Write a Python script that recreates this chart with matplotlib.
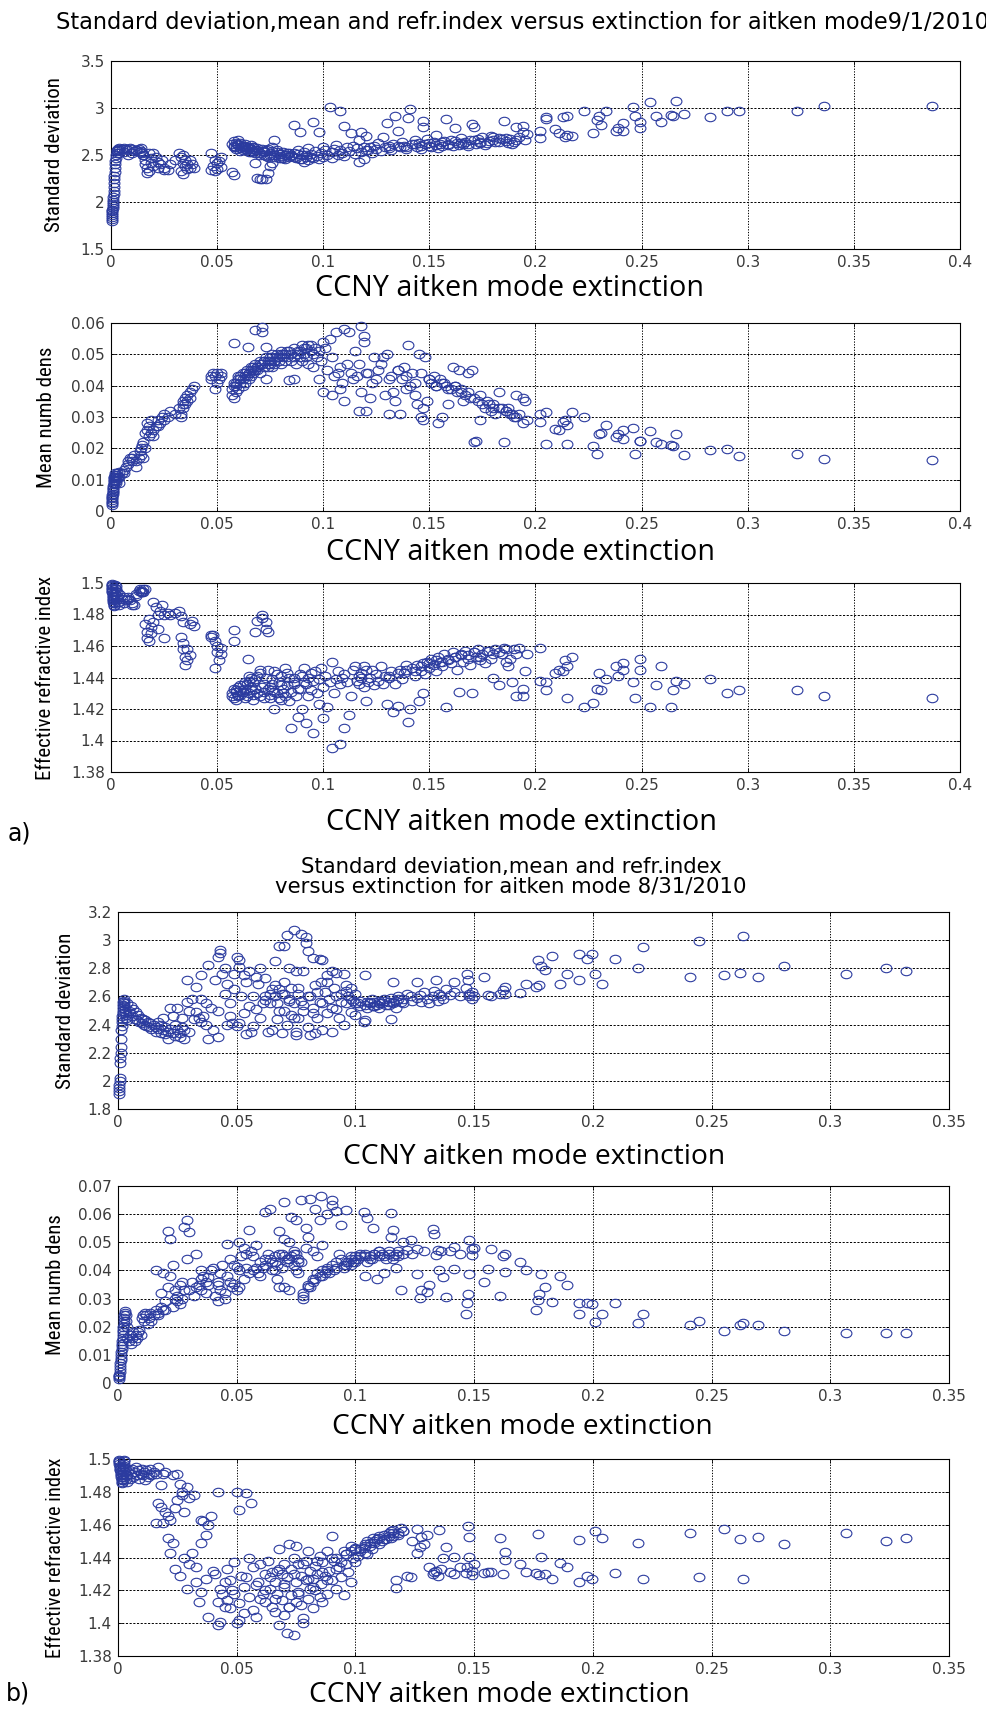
import matplotlib
matplotlib.use("Agg")
import matplotlib.pyplot as plt
from matplotlib.path import Path
from matplotlib.transforms import Affine2D
from matplotlib import font_manager as fm

# ---------------------------------------------------------------------------
# 9/1/2010 : aitken-mode extinction and retrieved size-distribution parameters
# ---------------------------------------------------------------------------
ext_a = [
    # near-zero column
    0.0003, 0.0004, 0.0005, 0.0005, 0.0006, 0.0006, 0.0007, 0.0008, 0.0008, 0.0009,
    0.0010, 0.0010, 0.0011, 0.0012, 0.0012, 0.0013, 0.0014, 0.0015, 0.0016, 0.0017,
    0.0018, 0.0019, 0.0020, 0.0022, 0.0024, 0.0026, 0.0028, 0.0030, 0.0033, 0.0036,
    # 0.004 - 0.015
    0.004, 0.005, 0.006, 0.007, 0.008, 0.009, 0.010, 0.011, 0.012, 0.013,
    0.0135, 0.014, 0.0145, 0.015, 0.004, 0.006, 0.008, 0.010, 0.012, 0.014,
    # 0.015 - 0.053
    0.015, 0.016, 0.016, 0.017, 0.017, 0.018, 0.018, 0.019, 0.019, 0.020,
    0.020, 0.021, 0.022, 0.022, 0.023, 0.024, 0.025, 0.025, 0.027, 0.028,
    0.030, 0.032, 0.033, 0.033, 0.034, 0.034, 0.034, 0.035, 0.035, 0.036,
    0.036, 0.037, 0.037, 0.038, 0.039, 0.047, 0.047, 0.048, 0.049, 0.049,
    0.050, 0.050, 0.051, 0.052, 0.052,
    # 0.057 - 0.085
    0.057, 0.057, 0.058, 0.058, 0.058, 0.059, 0.059, 0.060, 0.060, 0.061,
    0.061, 0.062, 0.062, 0.063, 0.063, 0.064, 0.0645, 0.065, 0.065, 0.066,
    0.066, 0.067, 0.067, 0.068, 0.068, 0.069, 0.069, 0.070, 0.070, 0.071,
    0.071, 0.072, 0.072, 0.073, 0.073, 0.074, 0.074, 0.075, 0.075, 0.076,
    0.076, 0.077, 0.077, 0.078, 0.079, 0.080, 0.080, 0.081, 0.082, 0.082,
    0.083, 0.084, 0.084, 0.085,
    # 0.085 - 0.12
    0.085, 0.086, 0.086, 0.087, 0.088, 0.089, 0.089, 0.090, 0.091, 0.091,
    0.092, 0.093, 0.093, 0.094, 0.095, 0.095, 0.096, 0.097, 0.098, 0.098,
    0.099, 0.100, 0.100, 0.101, 0.102, 0.103, 0.104, 0.104, 0.105, 0.106,
    0.107, 0.108, 0.108, 0.109, 0.110, 0.110, 0.111, 0.112, 0.113, 0.114,
    0.115, 0.116, 0.117, 0.117, 0.118, 0.118, 0.119, 0.120, 0.120, 0.119,
    # 0.12 - 0.2
    0.121, 0.122, 0.123, 0.124, 0.125, 0.126, 0.127, 0.128, 0.129, 0.130,
    0.131, 0.132, 0.133, 0.134, 0.135, 0.136, 0.137, 0.138, 0.139, 0.140,
    0.141, 0.142, 0.143, 0.144, 0.145, 0.146, 0.147, 0.147, 0.148, 0.149,
    0.150, 0.151, 0.152, 0.153, 0.154, 0.155, 0.156, 0.157, 0.158, 0.159,
    0.160, 0.161, 0.162, 0.163, 0.164, 0.165, 0.166, 0.167, 0.168, 0.169,
    0.170, 0.171, 0.172, 0.173, 0.174, 0.175, 0.176, 0.178, 0.179, 0.180,
    0.181, 0.183, 0.184, 0.185, 0.186, 0.187, 0.189, 0.190, 0.191, 0.192,
    0.194, 0.194, 0.195, 0.196,
    # sparse high-extinction tail
    0.387, 0.336, 0.323, 0.296, 0.290, 0.282, 0.270, 0.266, 0.265, 0.264,
    0.259, 0.257, 0.254, 0.249, 0.249, 0.247, 0.246, 0.241, 0.241, 0.239,
    0.238, 0.233, 0.231, 0.230, 0.229, 0.227, 0.223, 0.217, 0.215, 0.214,
    0.213, 0.211, 0.209, 0.215, 0.205, 0.205, 0.202, 0.202,
    # core of the 0.06 - 0.095 cloud
    0.058, 0.059, 0.060, 0.061, 0.062, 0.063, 0.064, 0.065, 0.066, 0.067,
    0.068, 0.069, 0.070, 0.071, 0.072, 0.073, 0.074, 0.075, 0.076, 0.077,
    0.078, 0.079, 0.080, 0.081, 0.083, 0.086, 0.088, 0.090, 0.092, 0.094,
    # core of the 0.13 - 0.19 band
    0.131, 0.135, 0.139, 0.143, 0.146, 0.150, 0.153, 0.156, 0.159, 0.162,
    0.165, 0.168, 0.171, 0.174, 0.177, 0.180, 0.183, 0.186, 0.188, 0.191,
]

sd_a = [
    1.80, 1.82, 1.84, 1.86, 1.88, 1.90, 1.92, 1.94, 1.96, 1.98,
    2.00, 2.02, 2.05, 2.08, 2.12, 2.16, 2.20, 2.24, 2.28, 2.32,
    2.36, 2.40, 2.44, 2.47, 2.50, 2.52, 2.54, 2.55, 2.56, 2.57,
    2.55, 2.56, 2.57, 2.56, 2.55, 2.57, 2.56, 2.54, 2.55, 2.56,
    2.53, 2.54, 2.52, 2.50, 2.52, 2.53, 2.50, 2.52, 2.55, 2.57,
    2.50, 2.45, 2.40, 2.36, 2.31, 2.33, 2.52, 2.47, 2.42, 2.38,
    2.52, 2.48, 2.43, 2.36, 2.40, 2.45, 2.36, 2.34, 2.34, 2.40,
    2.45, 2.52, 2.48, 2.33, 2.42, 2.30, 2.50, 2.38, 2.45, 2.35,
    2.40, 2.45, 2.36, 2.40, 2.36, 2.34, 2.52, 2.38, 2.33, 2.45,
    2.41, 2.35, 2.44, 2.37, 2.48,
    2.62, 2.32, 2.65, 2.60, 2.29, 2.63, 2.58, 2.66, 2.61, 2.57,
    2.63, 2.55, 2.60, 2.62, 2.56, 2.59, 2.57, 2.53, 2.58, 2.56,
    2.61, 2.54, 2.59, 2.55, 2.41, 2.26, 2.57, 2.52, 2.25, 2.56,
    2.24, 2.50, 2.54, 2.25, 2.55, 2.31, 2.48, 2.38, 2.52, 2.42,
    2.58, 2.66, 2.50, 2.53, 2.47, 2.51, 2.47, 2.53, 2.50, 2.46,
    2.52, 2.48, 2.52, 2.50,
    2.49, 2.82, 2.52, 2.47, 2.55, 2.74, 2.46, 2.50, 2.43, 2.53,
    2.48, 2.57, 2.45, 2.51, 2.85, 2.47, 2.54, 2.49, 2.74, 2.46,
    2.52, 2.58, 2.48, 2.55, 2.50, 3.01, 2.53, 2.47, 2.56, 2.61,
    2.50, 2.97, 2.55, 2.52, 2.81, 2.49, 2.58, 2.54, 2.73, 2.60,
    2.51, 2.57, 2.43, 2.66, 2.75, 2.53, 2.59, 2.70, 2.55, 2.46,
    2.55, 2.58, 2.52, 2.60, 2.56, 2.63, 2.54, 2.69, 2.58, 2.84,
    2.60, 2.55, 2.62, 2.91, 2.76, 2.58, 2.64, 2.60, 2.56, 2.89,
    2.99, 2.62, 2.66, 2.59, 2.63, 2.56, 2.86, 2.80, 2.62, 2.67,
    2.60, 2.58, 2.64, 2.71, 2.57, 2.62, 2.60, 2.65, 2.88, 2.61,
    2.66, 2.60, 2.79, 2.63, 2.61, 2.68, 2.62, 2.64, 2.60, 2.66,
    2.83, 2.80, 2.62, 2.67, 2.63, 2.69, 2.61, 2.65, 2.70, 2.69,
    2.64, 2.64, 2.67, 2.86, 2.68, 2.63, 2.62, 2.64, 2.80, 2.69,
    2.81, 2.74, 2.66, 2.72,
    3.02, 3.02, 2.97, 2.97, 2.97, 2.90, 2.94, 3.07, 2.91, 2.93,
    2.85, 2.91, 3.06, 2.79, 2.85, 2.92, 3.01, 2.84, 2.76, 2.79,
    2.76, 2.97, 2.82, 2.92, 2.87, 2.73, 2.97, 2.70, 2.92, 2.69,
    2.90, 2.73, 2.78, 2.71, 2.90, 2.88, 2.76, 2.68,
    2.59, 2.56, 2.62, 2.54, 2.58, 2.60, 2.55, 2.57, 2.53, 2.58,
    2.52, 2.55, 2.50, 2.54, 2.53, 2.49, 2.56, 2.50, 2.54, 2.48,
    2.55, 2.51, 2.49, 2.47, 2.50, 2.48, 2.51, 2.46, 2.50, 2.48,
    2.57, 2.60, 2.58, 2.62, 2.60, 2.63, 2.61, 2.64, 2.62, 2.65,
    2.63, 2.62, 2.66, 2.64, 2.63, 2.66, 2.68, 2.65, 2.67, 2.66,
]

mnd_a = [
    0.0020, 0.0025, 0.0030, 0.0035, 0.0040, 0.0045, 0.0050, 0.0055, 0.0060, 0.0065,
    0.0070, 0.0075, 0.0080, 0.0085, 0.0090, 0.0095, 0.0100, 0.0105, 0.0110, 0.0115,
    0.0120, 0.0110, 0.0100, 0.0090, 0.0095, 0.0105, 0.0115, 0.0120, 0.0110, 0.0125,
    0.011, 0.012, 0.013, 0.014, 0.016, 0.017, 0.017, 0.018, 0.016, 0.017,
    0.019, 0.020, 0.021, 0.022, 0.009, 0.012, 0.015, 0.016, 0.014, 0.018,
    0.017, 0.025, 0.020, 0.028, 0.026, 0.024, 0.027, 0.025, 0.029, 0.026,
    0.024, 0.027, 0.029, 0.027, 0.028, 0.030, 0.029, 0.031, 0.030, 0.032,
    0.031, 0.033, 0.031, 0.030, 0.035, 0.034, 0.033, 0.036, 0.034, 0.037,
    0.035, 0.038, 0.036, 0.039, 0.040, 0.042, 0.043, 0.044, 0.039, 0.043,
    0.044, 0.041, 0.042, 0.043, 0.044,
    0.039, 0.037, 0.0536, 0.040, 0.036, 0.041, 0.038, 0.039, 0.042, 0.041,
    0.043, 0.040, 0.042, 0.044, 0.041, 0.043, 0.0523, 0.042, 0.044, 0.043,
    0.045, 0.044, 0.046, 0.0577, 0.045, 0.046, 0.045, 0.047, 0.044, 0.0587,
    0.0571, 0.046, 0.048, 0.0523, 0.0422, 0.047, 0.046, 0.048, 0.047, 0.049,
    0.046, 0.048, 0.047, 0.049, 0.048, 0.050, 0.047, 0.049, 0.048, 0.050,
    0.049, 0.051, 0.0417, 0.050,
    0.048, 0.042, 0.049, 0.047, 0.050, 0.049, 0.051, 0.048, 0.052, 0.050,
    0.049, 0.053, 0.047, 0.051, 0.050, 0.046, 0.052, 0.049, 0.042, 0.051,
    0.048, 0.054, 0.038, 0.052, 0.045, 0.055, 0.037, 0.049, 0.043, 0.057,
    0.044, 0.039, 0.046, 0.041, 0.058, 0.035, 0.047, 0.057, 0.044, 0.042,
    0.051, 0.043, 0.032, 0.047, 0.059, 0.038, 0.056, 0.032, 0.044, 0.054,
    0.044, 0.036, 0.041, 0.049, 0.042, 0.045, 0.047, 0.049, 0.037, 0.050,
    0.031, 0.043, 0.038, 0.035, 0.045, 0.031, 0.042, 0.046, 0.039, 0.053,
    0.040, 0.044, 0.037, 0.034, 0.050, 0.030, 0.029, 0.033, 0.049, 0.035,
    0.042, 0.041, 0.043, 0.040, 0.028, 0.042, 0.030, 0.041, 0.040, 0.034,
    0.039, 0.046, 0.040, 0.038, 0.045, 0.039, 0.035, 0.037, 0.044, 0.036,
    0.045, 0.022, 0.0225, 0.035, 0.029, 0.034, 0.033, 0.034, 0.032, 0.033,
    0.031, 0.038, 0.033, 0.022, 0.032, 0.033, 0.031, 0.030, 0.037, 0.031,
    0.036, 0.028, 0.035, 0.029,
    0.0162, 0.0165, 0.0181, 0.0175, 0.0198, 0.0196, 0.0180, 0.0245, 0.0208, 0.0212,
    0.0213, 0.0219, 0.0255, 0.0225, 0.0222, 0.0183, 0.0266, 0.0257, 0.0230, 0.0245,
    0.0235, 0.0274, 0.0250, 0.0245, 0.0182, 0.0208, 0.0300, 0.0316, 0.0213, 0.0291,
    0.0285, 0.0260, 0.0262, 0.0275, 0.0215, 0.0316, 0.0284, 0.0310,
    0.041, 0.040, 0.043, 0.042, 0.044, 0.043, 0.045, 0.044, 0.046, 0.045,
    0.047, 0.046, 0.048, 0.047, 0.048, 0.049, 0.048, 0.049, 0.050, 0.048,
    0.050, 0.049, 0.051, 0.050, 0.051, 0.052, 0.051, 0.053, 0.052, 0.053,
    0.042, 0.045, 0.043, 0.041, 0.044, 0.042, 0.040, 0.041, 0.039, 0.040,
    0.038, 0.038, 0.036, 0.037, 0.035, 0.034, 0.033, 0.032, 0.031, 0.030,
]

ri_a = [
    1.4995, 1.4990, 1.4980, 1.4970, 1.4960, 1.4950, 1.4940, 1.4930, 1.4920, 1.4910,
    1.4900, 1.4890, 1.4880, 1.4870, 1.4860, 1.4855, 1.4870, 1.4890, 1.4910, 1.4930,
    1.4950, 1.4970, 1.4990, 1.4980, 1.4960, 1.4940, 1.4920, 1.4900, 1.4880, 1.4860,
    1.488, 1.490, 1.487, 1.489, 1.491, 1.489, 1.487, 1.486, 1.493, 1.495,
    1.496, 1.495, 1.494, 1.496, 1.493, 1.491, 1.490, 1.486, 1.492, 1.494,
    1.494, 1.496, 1.474, 1.469, 1.465, 1.463, 1.477, 1.472, 1.468, 1.475,
    1.488, 1.485, 1.480, 1.471, 1.482, 1.486, 1.465, 1.480, 1.481, 1.480,
    1.481, 1.482, 1.479, 1.466, 1.475, 1.462, 1.458, 1.453, 1.448, 1.451,
    1.458, 1.454, 1.474, 1.476, 1.473, 1.467, 1.466, 1.467, 1.446, 1.463,
    1.460, 1.456, 1.451, 1.455, 1.459,
    1.430, 1.428, 1.470, 1.433, 1.463, 1.426, 1.431, 1.434, 1.428, 1.432,
    1.429, 1.435, 1.431, 1.427, 1.433, 1.436, 1.452, 1.430, 1.438, 1.434,
    1.440, 1.429, 1.437, 1.469, 1.433, 1.476, 1.441, 1.428, 1.443, 1.480,
    1.478, 1.436, 1.431, 1.475, 1.471, 1.469, 1.445, 1.434, 1.427, 1.439,
    1.432, 1.420, 1.444, 1.430, 1.437, 1.426, 1.441, 1.433, 1.428, 1.446,
    1.435, 1.425, 1.440, 1.431,
    1.408, 1.436, 1.440, 1.428, 1.415, 1.433, 1.442, 1.420, 1.446, 1.437,
    1.411, 1.428, 1.440, 1.432, 1.405, 1.438, 1.444, 1.430, 1.423, 1.439,
    1.446, 1.414, 1.434, 1.441, 1.421, 1.437, 1.395, 1.450, 1.430, 1.439,
    1.444, 1.398, 1.436, 1.440, 1.408, 1.442, 1.437, 1.416, 1.428, 1.445,
    1.447, 1.438, 1.441, 1.436, 1.440, 1.443, 1.447, 1.425, 1.445, 1.434,
    1.437, 1.440, 1.445, 1.435, 1.442, 1.438, 1.447, 1.436, 1.441, 1.423,
    1.440, 1.444, 1.418, 1.436, 1.422, 1.445, 1.439, 1.443, 1.448, 1.412,
    1.420, 1.446, 1.441, 1.448, 1.425, 1.444, 1.449, 1.430, 1.442, 1.450,
    1.446, 1.452, 1.448, 1.444, 1.453, 1.450, 1.447, 1.455, 1.421, 1.451,
    1.449, 1.456, 1.453, 1.445, 1.431, 1.454, 1.450, 1.457, 1.452, 1.448,
    1.430, 1.456, 1.453, 1.458, 1.451, 1.455, 1.449, 1.457, 1.452, 1.440,
    1.458, 1.435, 1.455, 1.459, 1.450, 1.447, 1.437, 1.458, 1.428, 1.459,
    1.428, 1.433, 1.444, 1.455,
    1.427, 1.428, 1.432, 1.432, 1.430, 1.439, 1.436, 1.438, 1.432, 1.421,
    1.447, 1.435, 1.421, 1.452, 1.445, 1.427, 1.437, 1.449, 1.445, 1.441,
    1.447, 1.439, 1.432, 1.443, 1.433, 1.424, 1.421, 1.453, 1.447, 1.451,
    1.444, 1.445, 1.443, 1.427, 1.437, 1.432, 1.459, 1.438,
    1.427, 1.432, 1.429, 1.435, 1.431, 1.437, 1.428, 1.441, 1.432, 1.426,
    1.439, 1.430, 1.445, 1.434, 1.427, 1.440, 1.433, 1.429, 1.436, 1.431,
    1.442, 1.427, 1.435, 1.430, 1.443, 1.437, 1.433, 1.441, 1.436, 1.443,
    1.441, 1.443, 1.445, 1.444, 1.447, 1.449, 1.451, 1.450, 1.452, 1.453,
    1.455, 1.454, 1.456, 1.453, 1.457, 1.455, 1.456, 1.458, 1.452, 1.455,
]

# ---------------------------------------------------------------------------
# 8/31/2010
# ---------------------------------------------------------------------------
ext_b = [
    0.0003, 0.0004, 0.0005, 0.0006, 0.0007, 0.0008, 0.0009, 0.0010, 0.0011, 0.0012,
    0.0013, 0.0014, 0.0015, 0.0016, 0.0017, 0.0018, 0.0019, 0.0020, 0.0021, 0.0022,
    0.0023, 0.0024, 0.0025, 0.0026, 0.0027, 0.0028, 0.0030, 0.0032, 0.0034, 0.0036,
    0.004, 0.0045, 0.005, 0.0055, 0.006, 0.0065, 0.007, 0.0075, 0.008, 0.0085,
    0.009, 0.0095, 0.010, 0.0105, 0.011, 0.0115, 0.012, 0.0125, 0.013, 0.0135,
    0.014, 0.015,
    0.016, 0.016, 0.017, 0.017, 0.018, 0.018, 0.019, 0.019, 0.020, 0.020,
    0.021, 0.021, 0.022, 0.022, 0.023, 0.023, 0.024, 0.024, 0.025, 0.025,
    0.026, 0.026, 0.027, 0.027, 0.028, 0.028, 0.029, 0.029, 0.030, 0.030,
    0.031, 0.032, 0.033, 0.033, 0.034, 0.035, 0.035, 0.035, 0.036, 0.037,
    0.037, 0.038, 0.038, 0.039, 0.040,
    0.041, 0.042, 0.042, 0.042, 0.043, 0.043, 0.044, 0.045, 0.045, 0.046,
    0.046, 0.047, 0.047, 0.048, 0.049, 0.049, 0.050, 0.050, 0.051, 0.051,
    0.051, 0.052, 0.053, 0.053, 0.054, 0.054, 0.055, 0.055, 0.056, 0.057,
    0.057, 0.058, 0.058, 0.059, 0.060, 0.060, 0.061, 0.062, 0.062, 0.063,
    0.064, 0.065, 0.065,
    0.066, 0.066, 0.067, 0.067, 0.068, 0.068, 0.069, 0.069, 0.070, 0.070,
    0.070, 0.071, 0.071, 0.072, 0.072, 0.073, 0.073, 0.074, 0.074, 0.075,
    0.075, 0.075, 0.076, 0.076, 0.077, 0.077, 0.078, 0.078, 0.079, 0.079,
    0.080, 0.080, 0.081, 0.081, 0.082, 0.082, 0.083, 0.083, 0.084, 0.085,
    0.085, 0.0856, 0.086, 0.086, 0.087, 0.088, 0.088, 0.089, 0.090, 0.090,
    0.091, 0.092, 0.092, 0.093, 0.094, 0.095, 0.095, 0.096, 0.096, 0.097,
    0.098, 0.098, 0.099, 0.100, 0.100,
    0.101, 0.102, 0.1035, 0.104, 0.104, 0.105, 0.105, 0.106, 0.107, 0.1075,
    0.108, 0.109, 0.110, 0.110, 0.111, 0.112, 0.113, 0.114, 0.115, 0.115,
    0.116, 0.116, 0.117, 0.117, 0.118, 0.119, 0.120, 0.1216, 0.1234, 0.124,
    0.126, 0.126, 0.127, 0.1275, 0.129, 0.130, 0.131, 0.1325, 0.133, 0.134,
    0.1346, 0.135, 0.136, 0.137, 0.138, 0.140, 0.1415, 0.1415, 0.144, 0.1464,
    0.147, 0.1475, 0.148, 0.148, 0.149, 0.149, 0.150, 0.154, 0.156, 0.157,
    0.161, 0.162, 0.163, 0.163,
    0.3319, 0.3233, 0.3068, 0.2807, 0.2695, 0.2634, 0.262, 0.2554, 0.2447, 0.241,
    0.2213, 0.219, 0.2093, 0.204, 0.2007, 0.1997, 0.1975, 0.194, 0.1943, 0.189,
    0.186, 0.1826, 0.180, 0.178, 0.1767, 0.1775, 0.176, 0.172, 0.1695,
    # core of the 0.06 - 0.12 cloud
    0.062, 0.064, 0.066, 0.068, 0.070, 0.072, 0.074, 0.076, 0.078, 0.080,
    0.082, 0.084, 0.086, 0.088, 0.090, 0.092, 0.094, 0.096, 0.098, 0.100,
    0.102, 0.104, 0.106, 0.108, 0.110, 0.112, 0.114, 0.116, 0.118, 0.120,
]

sd_b = [
    1.91, 1.93, 1.95, 1.97, 2.00, 2.02, 2.13, 2.16, 2.20, 2.24,
    2.30, 2.36, 2.39, 2.42, 2.44, 2.46, 2.48, 2.50, 2.52, 2.54,
    2.56, 2.57, 2.58, 2.55, 2.53, 2.51, 2.49, 2.47, 2.45, 2.43,
    2.55, 2.50, 2.48, 2.53, 2.46, 2.51, 2.44, 2.49, 2.43, 2.47,
    2.42, 2.45, 2.41, 2.44, 2.40, 2.43, 2.39, 2.42, 2.38, 2.41,
    2.37, 2.40,
    2.38, 2.35, 2.42, 2.37, 2.34, 2.40, 2.36, 2.45, 2.33, 2.38,
    2.35, 2.30, 2.52, 2.37, 2.34, 2.46, 2.32, 2.40, 2.36, 2.52,
    2.34, 2.31, 2.38, 2.45, 2.30, 2.36, 2.72, 2.56, 2.50, 2.35,
    2.58, 2.44, 2.67, 2.49, 2.45, 2.75, 2.58, 2.42, 2.46, 2.55,
    2.40, 2.82, 2.30, 2.52, 2.36,
    2.72, 2.31, 2.88, 2.50, 2.93, 2.91, 2.76, 2.80, 2.62, 2.69,
    2.40, 2.46, 2.55, 2.41, 2.76, 2.65, 2.88, 2.39, 2.86, 2.81,
    2.41, 2.60, 2.75, 2.48, 2.33, 2.70, 2.53, 2.78, 2.35, 2.60,
    2.39, 2.51, 2.74, 2.69, 2.80, 2.45, 2.55, 2.575, 2.73, 2.345,
    2.62, 2.65, 2.36,
    2.85, 2.60, 2.55, 2.44, 2.96, 2.65, 2.34, 2.62, 2.96, 2.50,
    2.70, 3.035, 2.40, 2.80, 2.58, 2.47, 2.66, 3.075, 2.55, 2.78,
    2.326, 2.35, 2.62, 2.45, 3.047, 2.57, 2.78, 2.50, 3.02, 2.98,
    2.92, 2.38, 2.326, 2.60, 2.87, 2.52, 2.34, 2.68, 2.45, 2.865,
    2.56, 2.70, 2.86, 2.36, 2.63, 2.75, 2.48, 2.58, 2.35, 2.78,
    2.66, 2.77, 2.51, 2.45, 2.62, 2.76, 2.40, 2.68, 2.55, 2.60,
    2.49, 2.66, 2.57, 2.47, 2.62,
    2.55, 2.53, 2.42, 2.43, 2.75, 2.56, 2.52, 2.55, 2.58, 2.53,
    2.56, 2.54, 2.57, 2.52, 2.55, 2.58, 2.54, 2.56, 2.44, 2.59,
    2.70, 2.55, 2.57, 2.52, 2.60, 2.56, 2.58, 2.62, 2.60, 2.57,
    2.70, 2.59, 2.61, 2.56, 2.63, 2.58, 2.55, 2.60, 2.64, 2.72,
    2.57, 2.62, 2.60, 2.58, 2.65, 2.61, 2.70, 2.63, 2.60, 2.66,
    2.76, 2.72, 2.60, 2.62, 2.58, 2.63, 2.60, 2.74, 2.61, 2.60,
    2.62, 2.645, 2.67, 2.62,
    2.78, 2.80, 2.756, 2.815, 2.735, 3.027, 2.763, 2.751, 2.992, 2.735,
    2.952, 2.80, 2.869, 2.69, 2.756, 2.905, 2.869, 2.905, 2.716, 2.756,
    2.69, 2.888, 2.79, 2.815, 2.862, 2.68, 2.67, 2.69, 2.626,
    2.60, 2.55, 2.68, 2.50, 2.62, 2.57, 2.45, 2.66, 2.54, 2.60,
    2.48, 2.63, 2.55, 2.70, 2.52, 2.60, 2.56, 2.64, 2.58, 2.55,
    2.57, 2.54, 2.56, 2.53, 2.55, 2.57, 2.54, 2.56, 2.58, 2.55,
]

mnd_b = [
    0.0015, 0.0020, 0.0025, 0.0030, 0.0040, 0.0050, 0.0060, 0.0070, 0.0080, 0.0090,
    0.0100, 0.0110, 0.0120, 0.0130, 0.0140, 0.0150, 0.0160, 0.0170, 0.0180, 0.0190,
    0.0200, 0.0210, 0.0220, 0.0230, 0.0240, 0.0250, 0.0255, 0.0240, 0.0220, 0.0200,
    0.016, 0.015, 0.017, 0.014, 0.016, 0.018, 0.015, 0.017, 0.016, 0.018,
    0.019, 0.017, 0.023, 0.024, 0.022, 0.025, 0.024, 0.021, 0.023, 0.025,
    0.022, 0.024,
    0.026, 0.040, 0.025, 0.024, 0.032, 0.027, 0.026, 0.039, 0.026, 0.029,
    0.034, 0.054, 0.051, 0.038, 0.027, 0.042, 0.033, 0.030, 0.029, 0.031,
    0.035, 0.028, 0.030, 0.036, 0.0554, 0.033, 0.0578, 0.044, 0.0536, 0.033,
    0.036, 0.031, 0.046, 0.034, 0.035, 0.040, 0.037, 0.033, 0.038, 0.036,
    0.032, 0.0377, 0.035, 0.040, 0.041,
    0.031, 0.029, 0.035, 0.036, 0.033, 0.039, 0.042, 0.030, 0.032, 0.0495,
    0.038, 0.044, 0.036, 0.034, 0.0353, 0.042, 0.0412, 0.033, 0.050, 0.034,
    0.040, 0.045, 0.048, 0.037, 0.046, 0.041, 0.0542, 0.039, 0.047, 0.040,
    0.045, 0.041, 0.049, 0.039, 0.043, 0.038, 0.041, 0.0608, 0.044, 0.046,
    0.062, 0.043, 0.040,
    0.045, 0.040, 0.042, 0.037, 0.054, 0.034, 0.046, 0.041, 0.0643, 0.034,
    0.051, 0.044, 0.043, 0.050, 0.033, 0.059, 0.045, 0.047, 0.042, 0.0578,
    0.046, 0.040, 0.044, 0.039, 0.0649, 0.043, 0.030, 0.031, 0.055, 0.048,
    0.052, 0.034, 0.0655, 0.034, 0.047, 0.036, 0.062, 0.037, 0.045, 0.058,
    0.038, 0.0663, 0.038, 0.049, 0.039, 0.060, 0.040, 0.039, 0.0649, 0.0631,
    0.040, 0.061, 0.041, 0.046, 0.056, 0.041, 0.042, 0.0613, 0.042, 0.043,
    0.042, 0.044, 0.043, 0.045, 0.043,
    0.044, 0.045, 0.0608, 0.046, 0.038, 0.0587, 0.043, 0.045, 0.044, 0.0552,
    0.046, 0.037, 0.045, 0.047, 0.046, 0.039, 0.044, 0.047, 0.0604, 0.052,
    0.0543, 0.045, 0.046, 0.041, 0.047, 0.0329, 0.050, 0.0471, 0.0507, 0.046,
    0.0477, 0.0388, 0.0303, 0.0329, 0.047, 0.0323, 0.0347, 0.0548, 0.0528, 0.0454,
    0.0471, 0.040, 0.047, 0.0376, 0.0305, 0.047, 0.0406, 0.0483, 0.046, 0.0246,
    0.0284, 0.0317, 0.0388, 0.0507, 0.0454, 0.0477, 0.048, 0.0359, 0.0406, 0.0477,
    0.0308, 0.045, 0.0394, 0.046,
    0.0177, 0.0177, 0.0177, 0.0185, 0.0207, 0.0213, 0.0205, 0.0185, 0.0220, 0.0207,
    0.0246, 0.0213, 0.0284, 0.0246, 0.0217, 0.0282, 0.0285, 0.0284, 0.0246, 0.0349,
    0.0379, 0.0288, 0.0341, 0.0388, 0.0296, 0.0315, 0.0260, 0.0400, 0.0430,
    0.042, 0.044, 0.043, 0.046, 0.045, 0.044, 0.046, 0.043, 0.032, 0.035,
    0.037, 0.039, 0.040, 0.041, 0.042, 0.043, 0.044, 0.043, 0.045, 0.044,
    0.046, 0.045, 0.044, 0.046, 0.047, 0.045, 0.046, 0.044, 0.045, 0.046,
]

ri_b = [
    1.4995, 1.4990, 1.4980, 1.4970, 1.4960, 1.4950, 1.4940, 1.4930, 1.4920, 1.4910,
    1.4900, 1.4890, 1.4880, 1.4870, 1.4860, 1.4855, 1.4870, 1.4890, 1.4910, 1.4930,
    1.4950, 1.4970, 1.4985, 1.4995, 1.4960, 1.4940, 1.4920, 1.4900, 1.4880, 1.4860,
    1.490, 1.493, 1.488, 1.491, 1.494, 1.489, 1.492, 1.495, 1.490, 1.493,
    1.488, 1.491, 1.494, 1.490, 1.492, 1.487, 1.493, 1.489, 1.491, 1.494,
    1.490, 1.492,
    1.491, 1.461, 1.473, 1.495, 1.484, 1.471, 1.461, 1.491, 1.468, 1.492,
    1.452, 1.465, 1.463, 1.443, 1.490, 1.449, 1.433, 1.470, 1.491, 1.475,
    1.485, 1.429, 1.480, 1.478, 1.468, 1.440, 1.421, 1.483, 1.476, 1.436,
    1.443, 1.478, 1.434, 1.425, 1.413, 1.449, 1.419, 1.463, 1.462, 1.454,
    1.427, 1.404, 1.460, 1.465, 1.432,
    1.430, 1.399, 1.413, 1.480, 1.401, 1.421, 1.418, 1.410, 1.425, 1.414,
    1.433, 1.409, 1.426, 1.420, 1.418, 1.437, 1.480, 1.400, 1.402, 1.469,
    1.412, 1.429, 1.406, 1.422, 1.479, 1.428, 1.416, 1.440, 1.473, 1.434,
    1.408, 1.404, 1.423, 1.425, 1.415, 1.436, 1.418, 1.413, 1.430, 1.438,
    1.421, 1.431, 1.410,
    1.407, 1.425, 1.432, 1.418, 1.445, 1.399, 1.430, 1.414, 1.405, 1.436,
    1.422, 1.394, 1.428, 1.448, 1.410, 1.417, 1.433, 1.393, 1.440, 1.447,
    1.413, 1.425, 1.436, 1.419, 1.429, 1.411, 1.400, 1.403, 1.426, 1.438,
    1.444, 1.415, 1.421, 1.432, 1.409, 1.427, 1.435, 1.420, 1.430, 1.416,
    1.441, 1.424, 1.413, 1.437, 1.429, 1.418, 1.444, 1.432, 1.453, 1.426,
    1.438, 1.421, 1.440, 1.434, 1.428, 1.444, 1.417, 1.436, 1.442, 1.431,
    1.447, 1.425, 1.440, 1.445, 1.437,
    1.441, 1.444, 1.446, 1.443, 1.448, 1.442, 1.450, 1.447, 1.445, 1.452,
    1.449, 1.451, 1.448, 1.453, 1.450, 1.454, 1.451, 1.455, 1.452, 1.456,
    1.453, 1.457, 1.4212, 1.4263, 1.455, 1.4578, 1.456, 1.4287, 1.4283, 1.450,
    1.4572, 1.4426, 1.4466, 1.4527, 1.448, 1.4538, 1.434, 1.4299, 1.4314, 1.432,
    1.429, 1.4568, 1.433, 1.4395, 1.4466, 1.431, 1.4299, 1.4405, 1.434, 1.4308,
    1.4344, 1.4589, 1.4527, 1.4405, 1.4293, 1.432, 1.436, 1.4303, 1.431, 1.4314,
    1.4517, 1.4299, 1.4436, 1.4385,
    1.4517, 1.4503, 1.4548, 1.4483, 1.4523, 1.4271, 1.4511, 1.4572, 1.4283, 1.4548,
    1.4271, 1.4491, 1.4308, 1.4517, 1.4564, 1.4271, 1.4287, 1.4507, 1.4253, 1.4344,
    1.4369, 1.4267, 1.4299, 1.4405, 1.4542, 1.4293, 1.4303, 1.4314, 1.4360,
    1.420, 1.428, 1.415, 1.433, 1.424, 1.410, 1.430, 1.418, 1.436, 1.427,
    1.422, 1.438, 1.431, 1.426, 1.440, 1.433, 1.437, 1.442, 1.444, 1.446,
    1.445, 1.447, 1.449, 1.450, 1.452, 1.451, 1.453, 1.455, 1.454, 1.456,
]

# tick values
xticks_a = [0, 0.05, 0.1, 0.15, 0.2, 0.25, 0.3, 0.35, 0.4]
xticks_b = [0, 0.05, 0.1, 0.15, 0.2, 0.25, 0.3, 0.35]
yticks_sd_a = [1.5, 2, 2.5, 3, 3.5]
yticks_sd_b = [1.8, 2, 2.2, 2.4, 2.6, 2.8, 3, 3.2]
yticks_mnd_a = [0, 0.01, 0.02, 0.03, 0.04, 0.05, 0.06]
yticks_mnd_b = [0, 0.01, 0.02, 0.03, 0.04, 0.05, 0.06, 0.07]
yticks_ri = [1.38, 1.4, 1.42, 1.44, 1.46, 1.48, 1.5]

title_a = "Standard deviation,mean and refr.index versus extinction for aitken mode9/1/2010"
title_b = "Standard deviation,mean and refr.index\nversus extinction for aitken mode 8/31/2010"
xlabel_text = "CCNY aitken mode extinction"


def first_installed(*names):
    for name in names:
        try:
            fm.findfont(fm.FontProperties(family=name), fallback_to_default=False)
            return name
        except ValueError:
            continue
    return "DejaVu Sans"


YLAB_FAMILY = first_installed("Liberation Sans Narrow", "Arial Narrow",
                              "Roboto Condensed", "Roboto", "Liberation Sans")
XLAB_FAMILY = first_installed("Open Sans", "Lato")

W, H = 987, 1711
BLUE = "#2b3b9f"
TICK_COLOR = "#3a3a3a"

fig = plt.figure(figsize=(W / 100, H / 100), dpi=100)
fig.patch.set_facecolor("white")
renderer = fig.canvas.get_renderer()


def px_rect(left, top, right, bottom):
    return [left / W, 1 - bottom / H, (right - left) / W, (bottom - top) / H]


def fx(x):
    return x / W


def fy(y):
    return 1 - y / H


def fit(text, length_px, vertical=False):
    """Rescale a text so that its long side spans length_px pixels."""
    bb = text.get_window_extent(renderer)
    cur = bb.height if vertical else bb.width
    text.set_fontsize(text.get_fontsize() * length_px / cur)
    return text


# slightly flattened open circle, as in the original export
ring = Path.unit_circle().transformed(Affine2D().scale(1.0, 0.78))

panels = [
    # rect (l, t, r, b in px), x, y, xticks, yticks, ylabel, ylabel centre x, ylabel length
    ((111, 61, 960, 249), ext_a, sd_a, xticks_a, yticks_sd_a, "Standard deviation", 55, 155),
    ((111, 323, 960, 511), ext_a, mnd_a, xticks_a, yticks_mnd_a, "Mean numb dens", 47, 142),
    ((111, 583, 960, 772), ext_a, ri_a, xticks_a, yticks_ri, "Effective refractive index", 46, 204),
    ((118, 912, 949, 1109), ext_b, sd_b, xticks_b, yticks_sd_b, "Standard deviation", 66, 156),
    ((118, 1186, 949, 1383), ext_b, mnd_b, xticks_b, yticks_mnd_b, "Mean numb dens", 56, 141),
    ((118, 1459, 949, 1656), ext_b, ri_b, xticks_b, yticks_ri, "Effective refractive index", 56, 200),
]

for (l, t, r, b), xs, ys, xt, yt, ylab, ylx, ylen in panels:
    ax = fig.add_axes(px_rect(l, t, r, b))
    ax.plot(xs, ys, linestyle="none", marker=ring, markersize=7.8,
            markerfacecolor="none", markeredgecolor=BLUE, markeredgewidth=0.8,
            clip_on=False, zorder=3)
    ax.set_xlim(xt[0], xt[-1])
    ax.set_ylim(yt[0], yt[-1])
    ax.set_xticks(xt)
    ax.set_xticklabels([f"{v:g}" for v in xt])
    ax.set_yticks(yt)
    ax.set_yticklabels([f"{v:g}" for v in yt])
    ax.set_axisbelow(True)
    ax.xaxis.grid(True, color="black", linestyle=(0, (1.3, 1.5)), linewidth=0.7)
    ax.yaxis.grid(True, color="black", linestyle=(0, (2.2, 1.6)), linewidth=0.7)
    for sp in ax.spines.values():
        sp.set_linewidth(0.8)
        sp.set_color("black")
    ax.tick_params(direction="in", length=3, width=0.6, top=True, right=True,
                   labelsize=11, labelcolor=TICK_COLOR, pad=4.5)
    for lab in ax.get_xticklabels() + ax.get_yticklabels():
        lab.set_family("DejaVu Sans")
    yl = fig.text(fx(ylx), fy((t + b) / 2), ylab, rotation=90, ha="center", va="center",
                  family=YLAB_FAMILY, fontsize=15, color="black")
    fit(yl, ylen, vertical=True)

# x-axis captions under every panel
for cx, cy, clen in [(510, 288, 389), (521, 552, 388), (522, 822, 390),
                     (534, 1157, 381), (522, 1427, 380), (499, 1695, 380)]:
    xl = fig.text(fx(cx), fy(cy), xlabel_text, ha="center", va="center",
                  family=XLAB_FAMILY, fontsize=18, color="black")
    fit(xl, clen)

t1 = fig.text(fx(56), fy(23), title_a, ha="left", va="center",
              family="DejaVu Sans", fontsize=15, color="black")
fit(t1, 936)
t2 = fig.text(fx(511), fy(877), title_b, ha="center", va="center", multialignment="center",
              family="DejaVu Sans", fontsize=15, linespacing=1.0, color="black")
fit(t2, 474)

fig.text(fx(8), fy(833), "a)", ha="left", va="center", family="DejaVu Sans",
         fontsize=17, color="black")
fig.text(fx(6), fy(1694), "b)", ha="left", va="center", family="DejaVu Sans",
         fontsize=17, color="black")

fig.savefig("out.png", dpi=100, facecolor="white")
